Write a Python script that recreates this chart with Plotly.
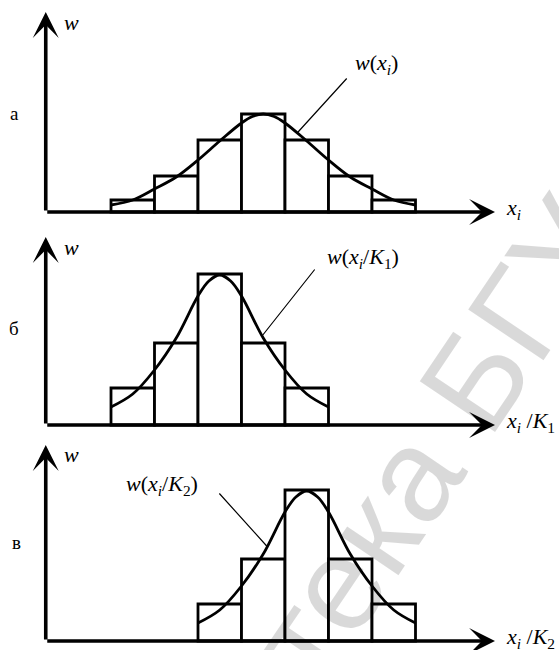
import plotly.graph_objects as go
from plotly.subplots import make_subplots

W, H = 559, 650

# ---------------- data ----------------
# panel а : histogram of w(x_i)
a_bins = [2, 3, 4, 5, 6, 7, 8]
a_w = [0.12, 0.36, 0.72, 0.98, 0.72, 0.36, 0.12]
a_curve_x = [1.5, 2, 2.5, 3, 3.5, 4, 4.5, 4.75, 5, 5.25, 5.5, 6, 6.5, 7, 7.5, 8, 8.5]
a_curve_w = [0.07, 0.12, 0.23, 0.35, 0.52, 0.71, 0.89, 0.955, 0.98, 0.955, 0.89, 0.71,
             0.52, 0.35, 0.23, 0.12, 0.07]

# panel б : w(x_i/K1)
b_bins = [2, 3, 4, 5, 6]
b_w = [0.37, 0.82, 1.51, 0.82, 0.37]
b_curve_x = [1.5, 2, 2.5, 3, 3.5, 3.75, 4, 4.25, 4.5, 5, 5.5, 6, 6.5]
b_curve_w = [0.18, 0.31, 0.55, 0.87, 1.29, 1.44, 1.50, 1.44, 1.29, 0.87, 0.55, 0.31, 0.18]

# panel в : w(x_i/K2)
c_bins = [4, 5, 6, 7, 8]
c_w = [0.37, 0.82, 1.51, 0.82, 0.37]
c_curve_x = [3.5, 4, 4.5, 5, 5.5, 5.75, 6, 6.25, 6.5, 7, 7.5, 8, 8.5]
c_curve_w = [0.18, 0.31, 0.55, 0.87, 1.29, 1.44, 1.50, 1.44, 1.29, 0.87, 0.55, 0.31, 0.18]

panel_letters = ["а", "б", "в"]
curve_labels = ["<i>w</i>(<i>x<sub>i</sub></i>)",
                "<i>w</i>(<i>x<sub>i</sub></i>/<i>K</i><sub>1</sub>)",
                "<i>w</i>(<i>x<sub>i</sub></i>/<i>K</i><sub>2</sub>)"]
x_titles = ["<i>x<sub>i</sub></i>",
            "<i>x<sub>i</sub></i> /<i>K</i><sub>1</sub>",
            "<i>x<sub>i</sub></i> /<i>K</i><sub>2</sub>"]
y_title = "<i>w</i>"
watermark = "Библиотека БГУ"

# ---------------- layout geometry ----------------
PX_PER_BIN = 43.5
X0_PX = 45.75            # pixel of x = 0
panels = [  # (top px, bottom px, baseline px, y-arrow tip px)
    (0, 225, 212, 12),
    (225, 432, 425, 237),
    (432, 650, 641, 445),
]
XTIP = (495 - X0_PX) / PX_PER_BIN

fig = make_subplots(rows=3, cols=1, vertical_spacing=0,
                    row_heights=[p[1] - p[0] for p in panels])

FONT = "Liberation Serif, Times New Roman, DejaVu Serif, serif"
data = [(a_bins, a_w, a_curve_x, a_curve_w),
        (b_bins, b_w, b_curve_x, b_curve_w),
        (c_bins, c_w, c_curve_x, c_curve_w)]

for i, (bins, w, cx, cw) in enumerate(data):
    r = i + 1
    fig.add_trace(go.Bar(x=bins, y=w, width=1,
                         marker=dict(color="white", line=dict(color="black", width=2.8))),
                  row=r, col=1)
    fig.add_trace(go.Scatter(x=cx, y=cw, mode="lines",
                             line=dict(color="black", width=2.8, shape="spline")),
                  row=r, col=1)
    top, bot, base, tip = panels[i]
    fig.update_yaxes(range=[-(bot - base) / 100, (base - top) / 100], visible=False,
                     fixedrange=True, row=r, col=1)
    fig.update_xaxes(range=[-X0_PX / PX_PER_BIN, (W - X0_PX) / PX_PER_BIN], visible=False,
                     row=r, col=1)

def paper(x, y):
    return x / W, 1 - y / H

annos = []
for i in range(3):
    top, bot, base, tip = panels[i]
    xr = "x" if i == 0 else f"x{i+1}"
    yr = "y" if i == 0 else f"y{i+1}"
    # y axis arrow
    annos.append(dict(x=0, y=(base - tip) / 100, ax=0, ay=0, xref=xr, yref=yr,
                      axref=xr, ayref=yr, text="", showarrow=True, arrowhead=3,
                      arrowsize=1.2, arrowwidth=3.6, arrowcolor="black", standoff=0))
    # x axis arrow
    annos.append(dict(x=XTIP, y=0, ax=0, ay=0, xref=xr, yref=yr,
                      axref=xr, ayref=yr, text="", showarrow=True, arrowhead=3,
                      arrowsize=1.2, arrowwidth=3.6, arrowcolor="black", standoff=0))

# leader lines (curve point -> label), in data units of each panel
leaders = [  # (panel, x on curve, y on curve, x end, y end)
    (0, 5.80, 0.80, 6.95, 1.35),
    (1, 4.99, 0.90, 6.21, 1.57),
    (2, 5.10, 0.94, 3.96, 1.49),
]
for p, x1, y1, x2, y2 in leaders:
    xr = "x" if p == 0 else f"x{p+1}"
    yr = "y" if p == 0 else f"y{p+1}"
    annos.append(dict(x=x1, y=y1, ax=x2, ay=y2, xref=xr, yref=yr, axref=xr, ayref=yr,
                      text="", showarrow=True, arrowhead=0, arrowwidth=1.2,
                      arrowcolor="black", standoff=0))

def text_anno(txt, px, py, size=18, xanchor="center"):
    x, y = paper(px, py)
    return dict(x=x, y=y, xref="paper", yref="paper", text=txt, showarrow=False,
                xanchor=xanchor, yanchor="middle",
                font=dict(family=FONT, size=size, color="black"))

# curve labels
annos.append(text_anno(curve_labels[0], 376, 64, size=22))
annos.append(text_anno(curve_labels[1], 363, 258, size=22))
annos.append(text_anno(curve_labels[2], 162, 485, size=22))
# axis titles
for (top, bot, base, tip), xt in zip(panels, x_titles):
    annos.append(text_anno(y_title, 71, tip + 10, size=22))
    annos.append(text_anno(xt, 504, base - 3, size=22, xanchor="left"))
# panel letters
annos.append(text_anno(panel_letters[0], 14, 114, size=19))
annos.append(text_anno(panel_letters[1], 14, 328, size=19))
annos.append(text_anno(panel_letters[2], 16, 542, size=19))

# watermark
wx, wy = paper(308, 627)
annos.append(dict(x=wx, y=wy, xref="paper", yref="paper", text=watermark,
                  showarrow=False, textangle=-56, xanchor="center", yanchor="middle",
                  font=dict(family="Liberation Sans", size=132, color="rgba(0,0,0,0.15)")))

fig.update_layout(width=W, height=H, margin=dict(l=0, r=0, t=0, b=0),
                  paper_bgcolor="white", plot_bgcolor="white", showlegend=False,
                  bargap=0, annotations=annos)

fig.write_html("out.html", config={"displayModeBar": False, "staticPlot": True},
               post_script="document.body.style.margin='0';"
                           "document.body.style.padding='0';"
                           "document.body.style.overflow='hidden';")
